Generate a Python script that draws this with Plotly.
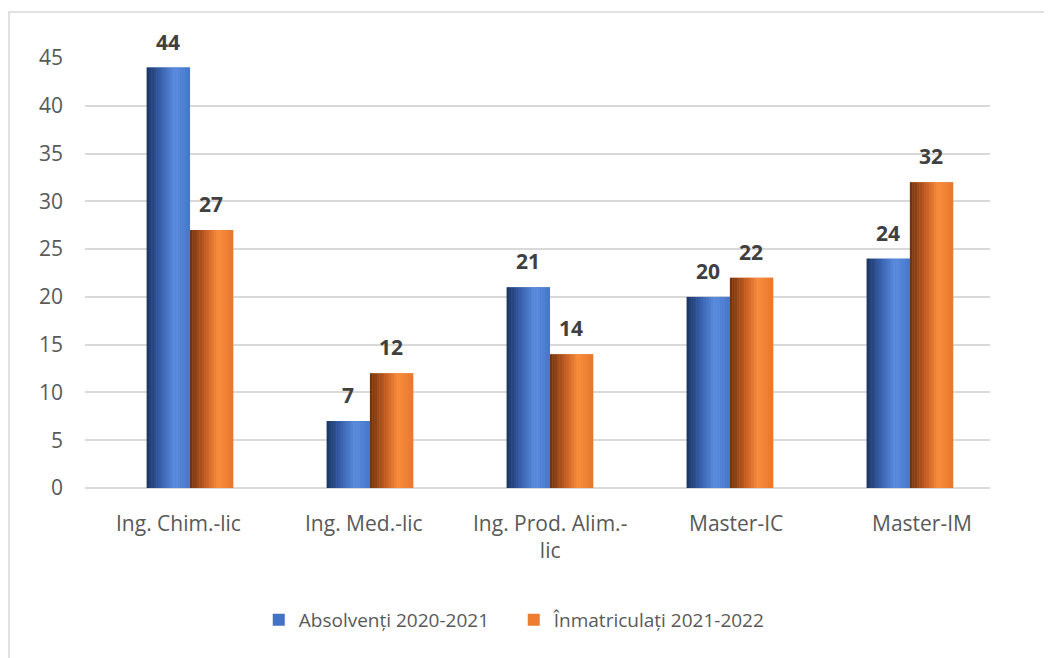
"""Absolvenți vs Înmatriculați by study programme - Excel-style cylinder bars."""

import plotly.graph_objects as go

# Data
categories = ["Ing. Chim.-lic", "Ing. Med.-lic", "Ing. Prod. Alim.-lic", "Master-IC", "Master-IM"]
tick_labels = ["Ing. Chim.-lic", "Ing. Med.-lic", "Ing. Prod. Alim.-<br>lic", "Master-IC", "Master-IM"]
absolventi = [44, 7, 21, 20, 24]
inmatriculati = [27, 12, 14, 22, 32]
series_names = ["Absolvenți 2020-2021", "Înmatriculați 2021-2022"]

FONT = "Open Sans"
TEXT_COLOR = "#595959"
GRID_COLOR = "#D9D9D9"

# Colour stops for the cylinder shading (position across bar, colour)
stops = {
    "blue": [(0.0, (0x1C, 0x33, 0x5E)), (0.35, (0x3A, 0x63, 0xB0)),
             (0.65, (0x5C, 0x8E, 0xDF)), (1.0, (0x47, 0x77, 0xCB))],
    "orange": [(0.0, (0x6A, 0x33, 0x10)), (0.35, (0xC0, 0x5A, 0x22)),
               (0.65, (0xFA, 0x8E, 0x3E)), (1.0, (0xE6, 0x78, 0x2E))],
}
flat = {"blue": "#4472C4", "orange": "#ED7D31"}


def shade(key, t):
    pts = stops[key]
    for (t0, c0), (t1, c1) in zip(pts[:-1], pts[1:]):
        if t <= t1:
            f = (t - t0) / (t1 - t0)
            r, g, b = (round(a + (b_ - a) * f) for a, b_ in zip(c0, c1))
            return f"rgb({r},{g},{b})"
    r, g, b = pts[-1][1]
    return f"rgb({r},{g},{b})"


BAR_W = 0.24
N_STRIPS = 18

fig = go.Figure()

for s, (values, key, name) in enumerate(
    [(absolventi, "blue", series_names[0]), (inmatriculati, "orange", series_names[1])]
):
    base = -BAR_W + s * BAR_W
    # Base bar (flat colour, carries the legend entry)
    fig.add_trace(
        go.Bar(
            x=categories,
            y=values,
            name=name,
            marker_color=flat[key],
            marker_line_width=0,
            offset=base,
            width=BAR_W,
            legendgroup=name,
            hoverinfo="skip",
        )
    )
    # Shading strips on top
    sw = BAR_W / N_STRIPS
    for i in range(N_STRIPS):
        fig.add_trace(
            go.Bar(
                x=categories,
                y=values,
                marker_color=shade(key, (i + 0.5) / N_STRIPS),
                marker_line_width=0,
                offset=base + i * sw,
                width=sw * 1.05,
                legendgroup=name,
                showlegend=False,
                hovertemplate=name + ": %{y}<extra></extra>",
            )
        )

annotations = []

# Value labels above the bars
for values, xshift in [(absolventi, -21.5), (inmatriculati, 21.5)]:
    for cat, v in zip(categories, values):
        annotations.append(
            dict(
                x=cat,
                y=v,
                text=f"<b>{v}</b>",
                showarrow=False,
                xshift=xshift,
                yshift=10,
                yanchor="bottom",
                font=dict(family=FONT, size=21, color="#404040"),
            )
        )

# Category labels (slightly spread outwards, like the 3D front edge in Excel)
for i, (cat, lab) in enumerate(zip(categories, tick_labels)):
    annotations.append(
        dict(
            x=cat,
            y=0,
            text=lab,
            showarrow=False,
            xshift=(i - 2) * 5.8,
            yshift=-19,
            yanchor="top",
            font=dict(family=FONT, size=21, color=TEXT_COLOR),
        )
    )

fig.update_layout(
    barmode="overlay",
    width=1044,
    height=650,
    paper_bgcolor="white",
    plot_bgcolor="white",
    margin=dict(l=77, r=62, t=50, b=170),
    font=dict(family=FONT, size=21, color=TEXT_COLOR),
    annotations=annotations,
    legend=dict(
        orientation="h",
        x=0.192,
        xanchor="left",
        y=-0.307,
        yanchor="middle",
        font=dict(family=FONT, size=19, color=TEXT_COLOR),
        itemwidth=30,
        entrywidth=210,
    ),
    shapes=[
        dict(
            type="rect",
            xref="paper",
            yref="paper",
            x0=-0.084,
            x1=1.2,
            y0=-0.6,
            y1=1.107,
            line=dict(color=GRID_COLOR, width=1.5),
            fillcolor="rgba(0,0,0,0)",
            layer="below",
        )
    ],
)

fig.update_xaxes(
    type="category",
    categoryorder="array",
    categoryarray=categories,
    range=[-0.583, 4.445],
    showgrid=False,
    showline=False,
    ticks="",
    showticklabels=False,
)

fig.update_yaxes(
    range=[0, 45],
    tickvals=[0, 5, 10, 15, 20, 25, 30, 35, 40, 45],
    showgrid=True,
    gridcolor=GRID_COLOR,
    gridwidth=1.5,
    zeroline=True,
    zerolinecolor=GRID_COLOR,
    zerolinewidth=2,
    showline=False,
    ticks="",
    ticklabelstandoff=21,
    tickfont=dict(family=FONT, size=21, color=TEXT_COLOR),
)

fig.write_html("out.html")
